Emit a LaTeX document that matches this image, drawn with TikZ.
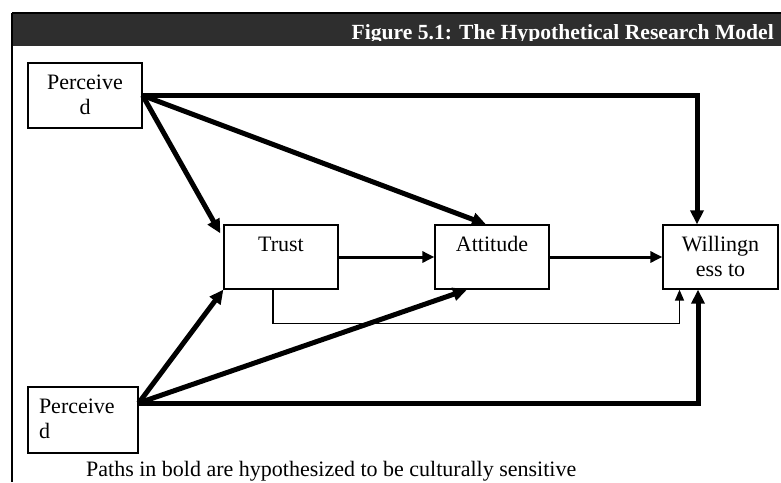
\documentclass[tikz,border=0pt]{standalone}
\usepackage{fontspec}
\setmainfont{Liberation Serif}
\usetikzlibrary{arrows.meta,calc}

% text placed at the top of a fixed-size box
\newcommand{\boxtext}[3]{\parbox[c][#2][t]{#1}{\rule{0pt}{26pt}#3}}

\begin{document}
\begin{tikzpicture}[x=1pt,y=-1pt,
    box/.style={draw,line width=1.3pt,inner sep=0pt,font=\fontsize{22}{25}\selectfont},
    boldpath/.style={line width=5pt,-{Triangle[length=14pt,width=13pt]}},
    midpath/.style={line width=3pt,-{Triangle[length=12pt,width=11pt]}},
    thinpath/.style={line width=1.6pt,-{Triangle[length=11pt,width=9pt]}}]
    \clip (0,0) rectangle (781,482);
    \fill[white] (0,0) rectangle (781,482);

    % frame and title bar
    \fill[black!82] (12,13) rectangle (781,46);
    \draw[line width=1.2pt] (12,13) -- (781,13);
    \draw[line width=1.5pt] (12,13) -- (12,482);
    \begin{scope}
      \clip (12,13) rectangle (781,40.5);
      \node[anchor=base east,text=white,inner sep=0pt,
        font=\fontsize{21.6}{25}\selectfont\bfseries] (title) at (774,39)
        {Figure 5.1: The Hypothetical Research Model};
    \end{scope}

    % boxes
    \node[box] (p1) at (85,95.5) {\boxtext{114pt}{65pt}{\centering Perceive\\d}};
    \node[box] (p2) at (83,420) {\boxtext{110pt}{66pt}{\leftskip=11pt Perceive\\d}};
    \node[box] (trust) at (281,257) {\boxtext{114pt}{64pt}{\centering Trust}};
    \node[box] (att) at (492,257) {\boxtext{114pt}{64pt}{\centering Attitude}};
    \node[box] (will) at (720.5,257) {\boxtext{115pt}{64pt}{\centering Willingn\\ess to}};

    \coordinate (p2out) at ($(p2.east)+(0,-17)$);

    % bold paths
    \draw[boldpath] (p1.east) -| ($(will.north)+(-23.5,0)$);
    \draw[boldpath] (p1.east) -- ($(trust.north west)+(-3,9)$);
    \draw[boldpath] (p1.east) -- ($(att.north)+(-6,0)$);
    \draw[boldpath] (p2out) -- (trust.south west);
    \draw[boldpath] (p2out) -- ($(att.south)+(-25,0)$);
    \draw[boldpath] (p2out) -| ($(will.south)+(-22.5,0)$);

    % other paths
    \draw[midpath] (trust.east) -- (att.west);
    \draw[midpath] (att.east) -- (will.west);
    \draw[thinpath] ($(trust.south)+(-8,0)$) -- ++(0,34) -| ($(will.south)+(-41,0)$);

    \node[anchor=base west,inner sep=0pt,font=\fontsize{22}{25}\selectfont] (note) at (86,476.5)
      {Paths in bold are hypothesized to be culturally sensitive};
\end{tikzpicture}
\end{document}
